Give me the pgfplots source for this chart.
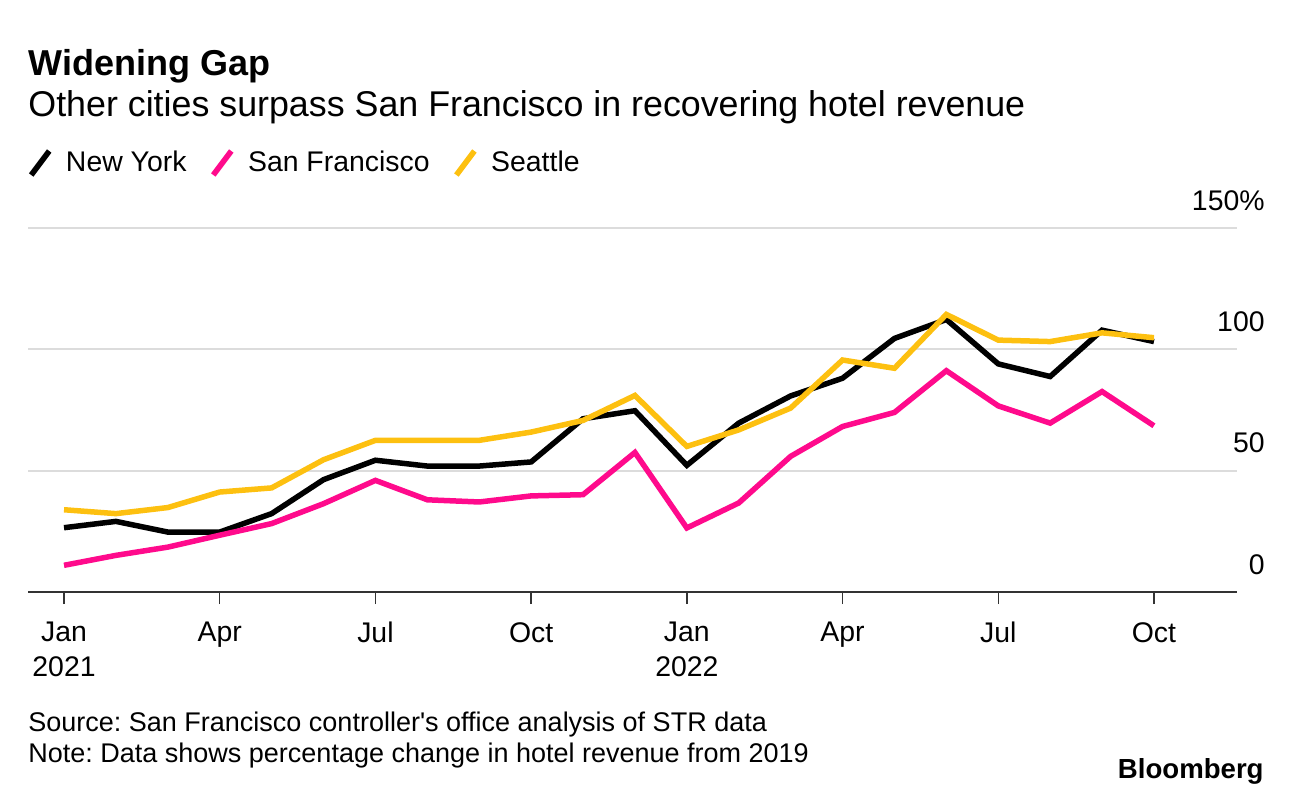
\documentclass[border=0pt]{standalone}
\usepackage{pgfplots}
\pgfplotsset{compat=1.18}
\usepackage{fontspec}
\setmainfont{Liberation Sans}
\frenchspacing
\definecolor{sfpink}{HTML}{FF0A8C}
\definecolor{styellow}{HTML}{FDC010}
\definecolor{gridgray}{HTML}{DCDCDC}
\begin{document}
\begin{tikzpicture}
\path[use as bounding box] (0,0) rectangle (646pt,-397pt);
\node[anchor=base west, inner sep=0pt, font=\fontsize{18}{20}\selectfont\bfseries] at (14pt,-37.5pt) {Widening Gap};
\node[anchor=base west, inner sep=0pt, font=\fontsize{17.9}{20}\selectfont] at (14pt,-58pt) {Other cities surpass San Francisco in recovering hotel revenue};
\node[anchor=base west, inner sep=0pt, font=\fontsize{13.5}{16}\selectfont] at (14pt,-365.5pt) {Source: San Francisco controller\textquotesingle s office analysis of STR data};
\node[anchor=base west, inner sep=0pt, font=\fontsize{13.5}{16}\selectfont] at (14pt,-381pt) {Note: Data shows percentage change in hotel revenue from 2019};
\node[anchor=base east, inner sep=0pt, font=\fontsize{13.8}{16}\selectfont\bfseries] at (632pt,-389pt) {Bloomberg};
\begin{axis}[
  at={(14pt,-296pt)}, anchor=south west,
  scale only axis, width=604.5pt, height=182pt,
  xmin=-0.694, xmax=22.6, ymin=0, ymax=150,
  axis x line=bottom, axis y line=right,
  x axis line style={-, line width=1.2pt, color=black!80},
  y axis line style={draw=none},
  ytick={0,50,100,150},
  yticklabels={0,50,100,150\%},
  ytick style={draw=none},
  ymajorgrids, grid style={color=gridgray, line width=1pt},
  xtick={0,3,6,9,12,15,18,21},
  xticklabels={{Jan\\2021},Apr,Jul,Oct,{Jan\\2022},Apr,Jul,Oct},
  tick align=outside, major tick length=6pt,
  xtick style={color=black!80, line width=0.7pt},
  xticklabel style={align=center, inner sep=0pt, anchor=north, yshift=-9pt, font=\fontsize{14.2}{17.5}\selectfont},
  yticklabel style={anchor=base east, inner sep=0pt, xshift=8pt, yshift=9pt, font=\fontsize{14.2}{17}\selectfont},
  /pgf/number format/assume math mode=true,
  legend columns=-1,
  legend style={at={(axis description cs:0,1.1786)}, anchor=west, draw=none, fill=none, inner sep=0pt,
    font=\fontsize{14.2}{17}\selectfont,
    /tikz/every odd column/.append style={column sep=5pt},
    /tikz/every even column/.append style={column sep=10pt}},
  legend image code/.code={\draw[#1, line width=2.8pt] (1pt,-6pt) -- (10pt,6pt);},
  every axis plot/.append style={line width=2.75pt, line join=miter},
  clip=false,
]
\addplot[black] coordinates {
(0,26.5)(1,29.1)(2,24.7)(3,24.7)(4,32.3)(5,46.3)(6,54.3)(7,51.9)(8,51.9)(9,53.6)(10,71.4)(11,74.7)
(12,52.2)(13,69.6)(14,80.8)(15,88.1)(16,104.5)(17,112.3)(18,94.0)(19,88.8)(20,107.9)(21,103.2)};
\addlegendentry{New York}
\addplot[sfpink] coordinates {
(0,11.0)(1,15.1)(2,18.5)(3,23.4)(4,28.2)(5,36.4)(6,46.0)(7,38.0)(8,37.1)(9,39.6)(10,40.1)(11,57.5)
(12,26.4)(13,36.7)(14,55.9)(15,68.2)(16,74.0)(17,91.2)(18,76.7)(19,69.6)(20,82.6)(21,68.5)};
\addlegendentry{San Francisco}
\addplot[styellow] coordinates {
(0,33.9)(1,32.3)(2,34.8)(3,41.2)(4,42.9)(5,54.5)(6,62.5)(7,62.5)(8,62.5)(9,65.9)(10,70.7)(11,81.0)
(12,60.0)(13,66.8)(14,75.8)(15,95.6)(16,92.2)(17,114.4)(18,103.8)(19,103.2)(20,106.8)(21,104.8)};
\addlegendentry{Seattle}
\end{axis}
\end{tikzpicture}
\end{document}
